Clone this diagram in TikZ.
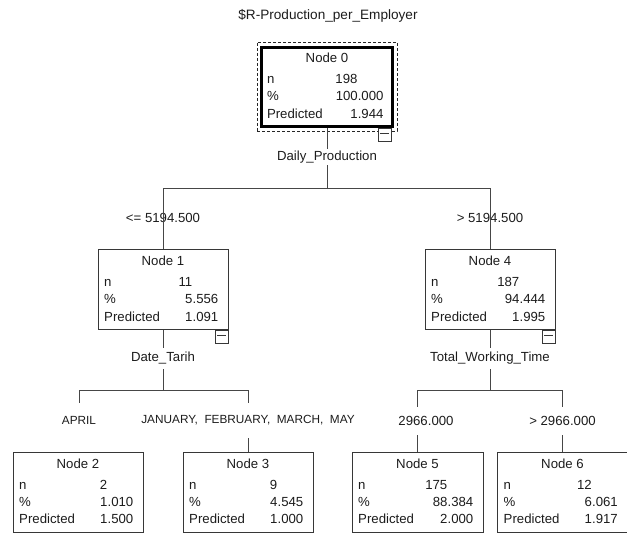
\documentclass[tikz,border=0pt]{standalone}
\usepackage{fontspec}
\setmainfont{Liberation Sans}
\usetikzlibrary{positioning, calc}
\definecolor{treeline}{RGB}{70, 70, 70}
\definecolor{boxline}{RGB}{55, 55, 55}
\definecolor{inktext}{RGB}{28, 28, 28}

\begin{document}
\begin{tikzpicture}[x=1pt, y=-1pt,
  edge/.style={draw=treeline, line width=1pt},
  nbox/.style={draw=boxline, line width=0.95pt, minimum width=130pt, minimum height=80pt, inner sep=0pt},
  rootbox/.style={nbox, draw=black, line width=2.4pt, minimum width=131pt, minimum height=79pt},
  selbox/.style={draw=black!85, dash pattern=on 3pt off 2pt, line width=0.9pt, minimum width=140pt, minimum height=89pt, inner sep=0pt},
  minusbox/.style={draw=boxline, fill=white, line width=0.9pt, minimum width=13pt, minimum height=13pt, inner sep=0pt, anchor=north east,
    path picture={\draw[boxline, line width=0.9pt] ($(path picture bounding box.north west)+(2,5)$) -- ($(path picture bounding box.north east)+(-2,5)$);}},
  txt/.style={font=\fontsize{13.2}{15}\selectfont, text=inktext, inner sep=0pt},
  celltitle/.style={txt, anchor=base},
  cellkey/.style={txt, anchor=base west},
  cellnum/.style={txt, anchor=base east},
  varlbl/.style={txt, minimum height=16pt},
  splitlbl/.style={txt, minimum height=28pt},
  catlbl/.style={txt, font=\fontsize{11.8}{14}\selectfont, minimum height=35pt}
]
  \useasboundingbox (0,0) rectangle (627,534);

  % title
  \node[txt, font=\fontsize{13.6}{16}\selectfont] (ttl) at (328,16) {\$R-Production\_per\_Employer};

  % tree boxes
  \node[selbox] (sel) at (327,86.5) {};
  \node[rootbox] (n0) at (327,87) {};
  \node[nbox] (n1) at (163,289.5) {};
  \node[nbox] (n4) at (490,289.5) {};
  \node[nbox] (n2) at (78,492) {};
  \node[nbox] (n3) at (248,492) {};
  \node[nbox, minimum width=131pt] (n5) at (417.5,492) {};
  \node[nbox] (n6) at (562.5,492) {};

  % box contents
  \foreach \nm/\nn/\np/\nr in {0/198/100.000/1.944, 1/11/5.556/1.091, 4/187/94.444/1.995,
      2/2/1.010/1.500, 3/9/4.545/1.000, 5/175/88.384/2.000, 6/12/6.061/1.917} {
    \node[celltitle] at ($(n\nm.north)+(0,16.5)$) {Node \nm};
    \node[cellkey] at ($(n\nm.north west)+(6.5,37.5)$) {n};
    \node[cellnum] at ($(n\nm.north east)+(-36,37.5)$) {\nn};
    \node[cellkey] at ($(n\nm.north west)+(6.5,54.5)$) {\%};
    \node[cellnum] at ($(n\nm.north east)+(-10,54.5)$) {\np};
    \node[cellkey] at ($(n\nm.north west)+(6.5,72)$) {Predicted};
    \node[cellnum] at ($(n\nm.north east)+(-10,72)$) {\nr};
  }

  % collapse icons
  \node[minusbox] (m0) at ($(n0.south east)+(-2,0)$) {};
  \node[minusbox] (m1) at (n1.south east) {};
  \node[minusbox] (m4) at (n4.south east) {};

  % variable and split labels
  \node[varlbl] (v0) at (327,157) {Daily\_Production};
  \node[txt] (s1) at (163,218) {<= 5194.500};
  \node[txt] (s4) at (490,218) {> 5194.500};
  \node[varlbl, minimum height=21pt] (v1) at (163,358.5) {Date\_Tarih};
  \node[varlbl, minimum height=21pt] (v4) at (490,358.5) {Total\_Working\_Time};
  \node[catlbl] (c2) at (79,420.5) {APRIL};
  \node[catlbl] (c3) at (248,420.5) {JANUARY,\ \ FEBRUARY,\ \ MARCH,\ \ MAY};
  \node[splitlbl] (c5) at (426,421) {2966.000};
  \node[splitlbl] (c6) at (562.5,421) {> 2966.000};

  \coordinate (j0) at (327,189);
  \coordinate (j1) at (163,391);
  \coordinate (j4) at (490,391);

  % connectors
  \draw[edge] (n0) -- (v0);
  \draw[edge] (v0) -- (j0);
  \draw[edge] (j0) -| (n1);
  \draw[edge] (j0) -| (n4);
  \draw[edge] (n1) -- (v1);
  \draw[edge] (v1) -- (j1);
  \draw[edge] (j1) -| (c2);
  \draw[edge] (j1) -| (c3);
  \draw[edge] (c3) -- (n3);
  \draw[edge] (n4) -- (v4);
  \draw[edge] (v4) -- (j4);
  \draw[edge] (j4) -| (c5.north -| n5);
  \draw[edge] (c5.south -| n5) -- (n5);
  \draw[edge] (j4) -| (c6);
  \draw[edge] (c6) -- (n6);
\end{tikzpicture}
\end{document}
